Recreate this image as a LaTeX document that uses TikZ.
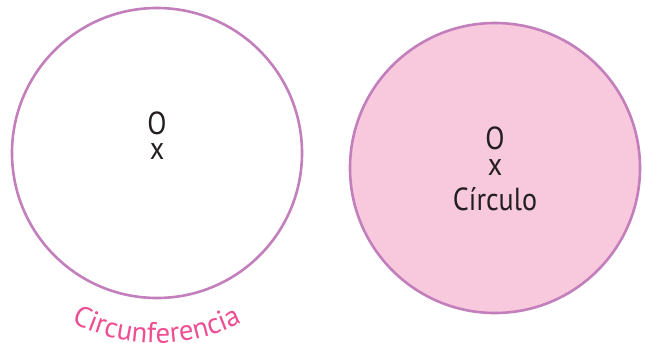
\documentclass[tikz,border=0pt]{standalone}
\usepackage{fontspec}
\setmainfont{PT Sans}[FakeStretch=0.88]
\newfontfamily\arcfont{PT Sans}
\usetikzlibrary{decorations.text}
\definecolor{ringc}{HTML}{C27FBB}
\definecolor{fillc}{HTML}{F8C8DD}
\definecolor{labc}{HTML}{EE4E92}
\definecolor{txtc}{HTML}{231F20}
\begin{document}
\begin{tikzpicture}[x=1bp,y=1bp,
  ring/.style={circle, draw=ringc, line width=2.6bp, minimum size=290bp, inner sep=0pt},
  lbl/.style={text=txtc, font=\fontsize{32}{36}\selectfont, inner sep=0pt, anchor=center}]
\useasboundingbox (0,0) rectangle (645,342);
\node[ring] (L) at (157,189) {};
\node[ring, fill=fillc] (R) at (495,174) {};
\node[lbl] (LO) at (157,219) {O};
\node[lbl] (Lx) at (157,190) {x};
\node[lbl] (RO) at (495,204) {O};
\node[lbl] (Rx) at (495,174) {x};
\node[lbl] (RC) at (495,143) {Círculo};
\coordinate (arcc) at ([yshift=-4bp]L.center);
\path[decorate, decoration={text along path, text align=center,
  text={|\color{labc}\arcfont\fontsize{29}{34}\selectfont|Circunferencia}}]
  ([shift={(225:186)}]arcc) arc[start angle=225, end angle=315, radius=186];
\end{tikzpicture}
\end{document}
